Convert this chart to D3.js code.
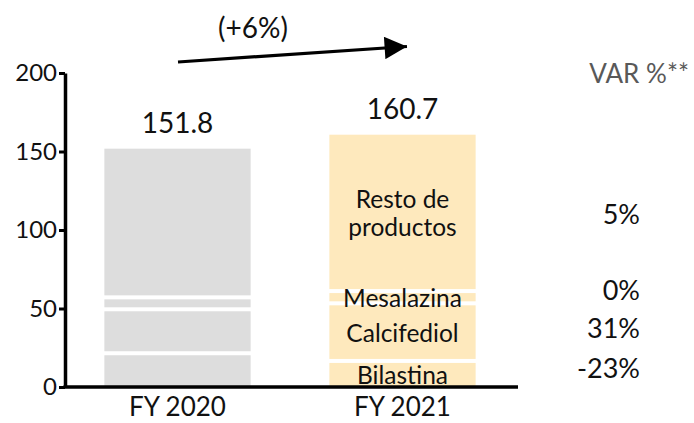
<!DOCTYPE html>
<html>
<head>
<meta charset="utf-8">
<script src="https://cdn.jsdelivr.net/npm/d3@7"></script>
<style>
  body { margin: 0; background: #fff; }
  svg text { font-family: Lato, 'Noto Sans', sans-serif; }
</style>
</head>
<body>
<svg id="chart" width="694" height="423"></svg>
<script>
// data
const years = ['FY 2020', 'FY 2021'];
const products = ['Bilastina', 'Calcifediol', 'Mesalazina', 'Resto de productos'];
const fy2020 = [21.5, 28.0, 7.6, 94.7];
const fy2021 = [16.6, 36.7, 7.8, 99.6];
const totals = ['151.8', '160.7'];
const varPct = ['-23%', '31%', '0%', '5%'];
const yTicks = [0, 50, 100, 150, 200];
const growth = '(+6%)';

const svg = d3.select('#chart');
const colors = ['#dddddd', '#fee9bd'];

const x = d3.scaleBand()
  .domain(years)
  .range([65, 515])
  .paddingInner(0.35)
  .paddingOuter(0.175);

const y = d3.scaleLinear().domain([0, 200]).range([387, 73]);

// stack segments per year
const rows = [fy2020, fy2021].map(function (vals, i) {
  let acc = 0;
  return vals.map(function (v, j) {
    const seg = { year: years[i], idx: i, j: j, y0: acc, y1: acc + v };
    acc += v;
    return seg;
  });
});

const gap = 2; // half of the white line between segments

rows.forEach(function (segs) {
  svg.append('g')
    .selectAll('rect')
    .data(segs)
    .join('rect')
    .attr('x', d => x(d.year))
    .attr('width', x.bandwidth())
    .attr('y', d => y(d.y1) + (d.j === segs.length - 1 ? 0 : gap))
    .attr('height', d => y(d.y0) - y(d.y1) - (d.j === segs.length - 1 ? 0 : gap) - (d.j === 0 ? 0 : gap))
    .attr('fill', d => colors[d.idx]);
});

// y axis
const yAxis = svg.append('g')
  .attr('transform', 'translate(65,0)')
  .call(d3.axisLeft(y).tickValues(yTicks).tickSize(6).tickSizeOuter(0).tickPadding(2));
yAxis.select('.domain').attr('stroke', '#000').attr('stroke-width', 3.5);
yAxis.selectAll('.tick line').attr('stroke', '#000').attr('stroke-width', 3);
yAxis.selectAll('.tick text')
  .attr('fill', '#111')
  .style('font-size', '24px')
  .style('font-family', 'Lato, sans-serif');

// x axis
const xAxis = svg.append('g')
  .attr('transform', 'translate(0,387)')
  .call(d3.axisBottom(x).tickSize(0).tickPadding(0));
xAxis.select('.domain').attr('d', 'M63.5,0H518').attr('stroke', '#000').attr('stroke-width', 3.5);
xAxis.selectAll('.tick text')
  .attr('fill', '#111')
  .attr('y', 29)
  .attr('dy', 0)
  .style('font-size', '26px')
  .style('font-family', 'Lato, sans-serif');

// totals above bars
svg.append('g')
  .selectAll('text')
  .data(rows)
  .join('text')
  .attr('x', (d, i) => x(years[i]) + x.bandwidth() / 2)
  .attr('y', d => y(d[d.length - 1].y1) - 16)
  .attr('text-anchor', 'middle')
  .attr('fill', '#111')
  .style('font-size', '28px')
  .text((d, i) => totals[i]);

// segment labels for FY 2021
const cx = x(years[1]) + x.bandwidth() / 2;
const labelG = svg.append('g').attr('fill', '#111').style('font-size', '24.5px');
rows[1].forEach(function (d) {
  const mid = y((d.y0 + d.y1) / 2);
  const words = products[d.j] === 'Resto de productos' ? ['Resto de', 'productos'] : [products[d.j]];
  const lh = 28;
  words.forEach(function (w, k) {
    labelG.append('text')
      .attr('x', cx)
      .attr('y', mid + 1 + (k - (words.length - 1) / 2) * lh)
      .attr('dy', '0.35em')
      .attr('text-anchor', 'middle')
      .text(w);
  });
});

// VAR % column
svg.append('text')
  .attr('x', 689)
  .attr('y', 74)
  .attr('dy', '0.35em')
  .attr('text-anchor', 'end')
  .attr('fill', '#595959')
  .style('font-size', '26px')
  .text('VAR %**');

const varY = [369, 329, 291, 215];
svg.append('g')
  .selectAll('text')
  .data(varPct)
  .join('text')
  .attr('x', 640)
  .attr('y', (d, i) => varY[i])
  .attr('dy', '0.35em')
  .attr('text-anchor', 'end')
  .attr('fill', '#111')
  .style('font-size', '27px')
  .text(d => d);

// growth arrow
svg.append('defs').append('marker')
  .attr('id', 'head')
  .attr('viewBox', '0 0 10 10')
  .attr('refX', 10).attr('refY', 5)
  .attr('markerWidth', 8).attr('markerHeight', 7)
  .attr('markerUnits', 'strokeWidth')
  .attr('orient', 'auto')
  .append('path')
  .attr('d', 'M0,0L10,5L0,10Z')
  .attr('fill', '#000');

svg.append('line')
  .attr('x1', 178).attr('y1', 62)
  .attr('x2', 407).attr('y2', 46.5)
  .attr('stroke', '#000')
  .attr('stroke-width', 3.2)
  .attr('marker-end', 'url(#head)');

svg.append('text')
  .attr('x', 253)
  .attr('y', 28)
  .attr('dy', '0.35em')
  .attr('text-anchor', 'middle')
  .attr('fill', '#111')
  .style('font-size', '28px')
  .text(growth);
</script>
</body>
</html>
